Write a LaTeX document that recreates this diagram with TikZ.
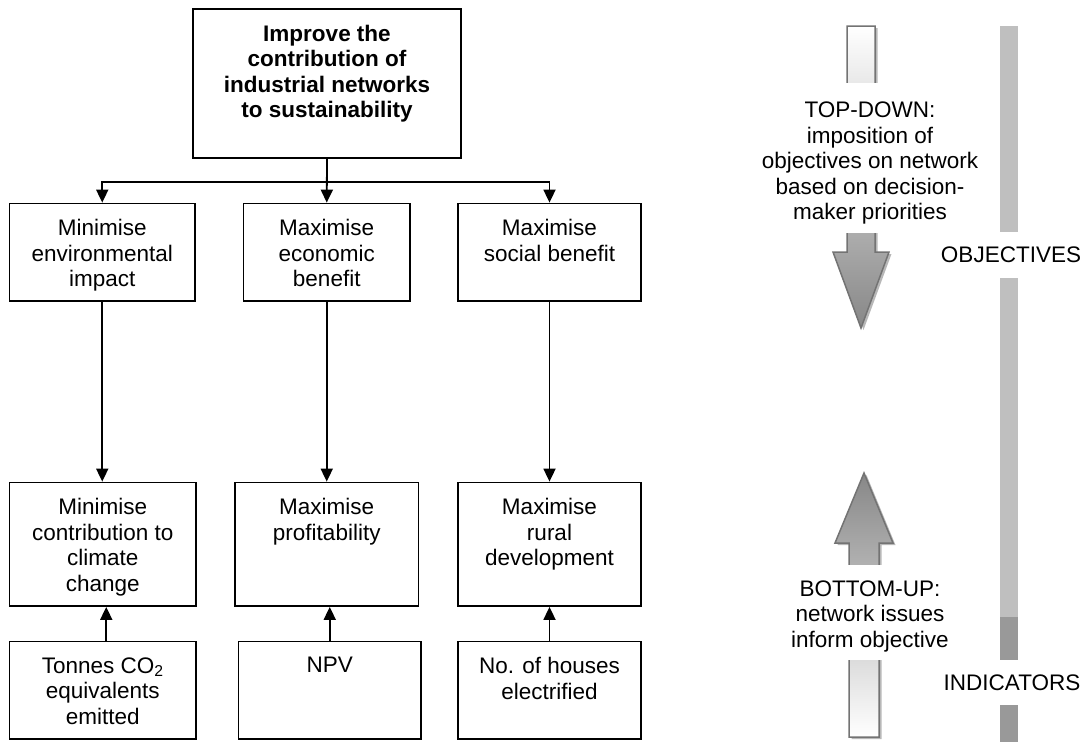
\documentclass[tikz,border=0pt]{standalone}
\usepackage{fontspec}
\setmainfont{Liberation Sans}
\usetikzlibrary{arrows.meta,calc}

\definecolor{arrowedge}{gray}{0.45}
\definecolor{arrowdark}{gray}{0.53}
\definecolor{barlight}{gray}{0.75}
\definecolor{bardark}{gray}{0.60}
\definecolor{shadowgray}{gray}{0.72}

\begin{document}
\begin{tikzpicture}[x=1pt,y=-1pt,
  box/.style={draw=black, line width=1.8pt, inner sep=0pt, fill=white},
  lbl/.style={anchor=north, inner sep=0pt, align=center,
              font=\fontsize{22.5}{25.5}\selectfont},
  sidetext/.style={inner sep=0pt, align=center,
              font=\fontsize{22.5}{25.5}\selectfont},
  conn/.style={line width=1.8pt, -{Triangle[width=12pt,length=13pt]}},
  plain/.style={line width=1.8pt},
  blockarrow/.style={draw=arrowedge, line width=1.5pt},
]
\useasboundingbox (0,0) rectangle (1085,742);

% ---------- goal ----------
\node[box, minimum width=268pt, minimum height=149pt] (goal) at (327,83.5) {};
\node[lbl, font=\bfseries\fontsize{22.5}{25.5}\selectfont] (goal-t)
  at ([yshift=-16.5pt]goal.north)
  {Improve the\\contribution of\\industrial networks\\to sustainability};

% ---------- objectives ----------
\node[box, minimum width=185.5pt, minimum height=97.5pt] (envobj) at (102.25,252.25) {};
\node[lbl] (envobj-t) at ([yshift=-16.5pt]envobj.north) {Minimise\\environmental\\impact};
\node[box, minimum width=166.5pt, minimum height=97.5pt] (ecoobj) at (326.75,252.25) {};
\node[lbl] (ecoobj-t) at ([yshift=-16.5pt]ecoobj.north) {Maximise\\economic\\benefit};
\node[box, minimum width=183pt, minimum height=97.5pt] (socobj) at (549.5,252.25) {};
\node[lbl] (socobj-t) at ([yshift=-16.5pt]socobj.north) {Maximise\\social benefit};

% ---------- sub-objectives ----------
\node[box, minimum width=186.5pt, minimum height=123.5pt] (envsub) at (102.75,544.25) {};
\node[lbl] (envsub-t) at ([yshift=-16.5pt]envsub.north) {Minimise\\contribution to\\climate\\change};
\node[box, minimum width=183.5pt, minimum height=123.5pt] (ecosub) at (326.75,544.25) {};
\node[lbl] (ecosub-t) at ([yshift=-16.5pt]ecosub.north) {Maximise\\profitability};
\node[box, minimum width=183pt, minimum height=123.5pt] (socsub) at (549.5,544.25) {};
\node[lbl] (socsub-t) at ([yshift=-16.5pt]socsub.north) {Maximise\\rural\\development};

% ---------- indicators ----------
\node[box, minimum width=186.5pt, minimum height=97.5pt] (envind) at (102.75,690.25) {};
\node[lbl] (envind-t) at ([yshift=-16.5pt]envind.north) {Tonnes CO\textsubscript{2}\\equivalents\\emitted};
\node[box, minimum width=182.5pt, minimum height=97.5pt] (ecoind) at (329.75,690.25) {};
\node[lbl] (ecoind-t) at ([yshift=-16.5pt]ecoind.north) {NPV};
\node[box, minimum width=183pt, minimum height=97.5pt] (socind) at (549.5,690.25) {};
\node[lbl] (socind-t) at ([yshift=-16.5pt]socind.north) {No. of houses\\electrified};

% ---------- connectors ----------
\coordinate (hub) at ($(goal.south)+(0,23)$);
\draw[conn] (goal.south) -- (ecoobj.north);
\draw[conn] (hub) -| (envobj.north);
\draw[conn] (hub) -| (socobj.north);

\draw[conn] (envobj.south) -- (envobj.south |- envsub.north);
\draw[conn] (ecoobj.south) -- (ecoobj.south |- ecosub.north);
\draw[conn] (socobj.south) -- (socobj.south |- socsub.north);

\draw[conn] ([xshift=3.5pt]envind.north) -- ([xshift=3.5pt]envind.north |- envsub.south);
\draw[conn] (ecoind.north) -- (ecoind.north |- ecosub.south);
\draw[conn] (socind.north) -- (socind.north |- socsub.south);

% ---------- top-down block arrow ----------
\fill[shadowgray] (849.5,28) -- (877.5,28) -- (877.5,254) -- (891.5,254) -- (863.5,330)
  -- (835.5,254) -- (849.5,254) -- cycle;
\draw[blockarrow, top color=white, bottom color=arrowdark]
  (847,26) -- (875,26) -- (875,252) -- (889,252) -- (861,328)
  -- (833,252) -- (847,252) -- cycle;
\fill[white] (836,83) rectangle (888,233);
\node[sidetext] (topdown) at (870,163)
  {TOP-DOWN:\\imposition of\\objectives on network\\based on decision-\\maker priorities};

% ---------- bottom-up block arrow ----------
\fill[shadowgray] (851.5,739) -- (851.5,545) -- (837.5,545) -- (866.5,475) -- (895.5,545)
  -- (881.5,545) -- (881.5,739) -- cycle;
\draw[blockarrow, top color=arrowdark, bottom color=white]
  (849,737) -- (849,543) -- (835,543) -- (864,473) -- (893,543)
  -- (879,543) -- (879,737) -- cycle;
\fill[white] (836,565) rectangle (896,660);
\node[sidetext] (bottomup) at (870,616)
  {BOTTOM-UP:\\network issues\\inform objective};

% ---------- level bar ----------
\fill[barlight] (1000,26) rectangle (1018,232);
\fill[barlight] (1000,278) rectangle (1018,617);
\fill[bardark] (1000,617) rectangle (1018,660);
\fill[bardark] (1000,705) rectangle (1018,742);
\node[sidetext] (objectives) at (1011,255) {OBJECTIVES};
\node[sidetext] (indicators) at (1012,683) {INDICATORS};

\end{tikzpicture}
\end{document}
